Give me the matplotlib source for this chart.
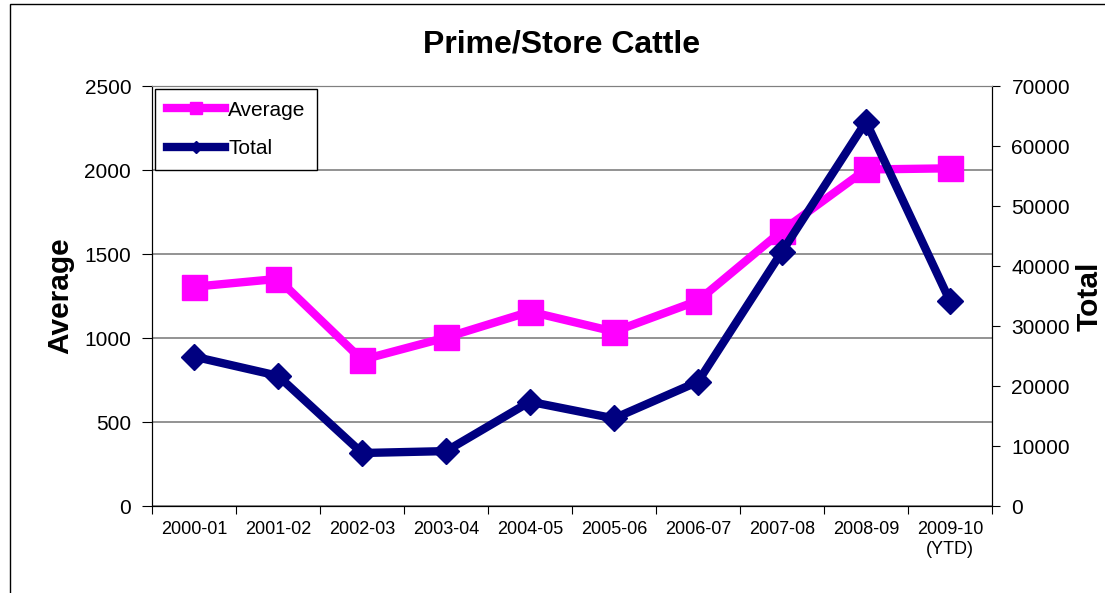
import matplotlib.pyplot as plt
from matplotlib.patches import Rectangle

plt.rcParams['font.family'] = ['Liberation Sans', 'DejaVu Sans']

seasons = ['2000-01', '2001-02', '2002-03', '2003-04', '2004-05',
           '2005-06', '2006-07', '2007-08', '2008-09', '2009-10\n(YTD)']
average = [1305, 1352, 870, 1003, 1157, 1038, 1222, 1638, 2003, 2010]
total = [24900, 21700, 8830, 9150, 17380, 14600, 20720, 42400, 64050, 34150]

fig = plt.figure(figsize=(11.05, 5.93), dpi=100)
ax = fig.add_axes([152 / 1105, 1 - 506 / 593, 840 / 1105, 420 / 593])
ax2 = ax.twinx()

# outer chart border (left and top visible)
fig.patches.append(Rectangle((10 / 1105, -0.1), 1.2, 1.1 - 4 / 593,
                             transform=fig.transFigure, fill=False,
                             edgecolor='black', lw=1))

x = list(range(len(seasons)))
ax.plot(x, average, color='#FF00FF', lw=6, marker='s', markersize=18,
        label='Average', zorder=3)
ax2.plot(x, total, color='#000080', lw=6, marker='D', markersize=13,
         label='Total', zorder=3)

ax.set_xlim(-0.5, 9.5)
ax.set_ylim(0, 2500)
ax.set_yticks(range(0, 2501, 500))
ax2.set_ylim(0, 70000)
ax2.set_yticks(range(0, 70001, 10000))

ax.set_xticks([i - 0.5 for i in range(11)])
ax.set_xticklabels([])
ax.set_xticks(x, minor=True)
ax.set_xticklabels(seasons, minor=True, fontsize=13)
ax.tick_params(axis='x', which='major', length=6, direction='out')
ax.tick_params(axis='x', which='minor', length=0, pad=11)

ax.grid(axis='y', color='#808080', lw=1.2)
ax.set_axisbelow(True)
ax.tick_params(axis='y', labelsize=15, length=7, direction='out', pad=8)
ax2.tick_params(axis='y', labelsize=15, length=6, direction='out', pad=8)

for a in (ax, ax2):
    a.spines['top'].set_color('#808080')
    for s in ('left', 'right', 'bottom'):
        a.spines[s].set_color('black')

ax.set_ylabel('Average', fontsize=21.5, fontweight='bold', labelpad=7)
ax2.set_ylabel('Total', fontsize=21.5, fontweight='bold', labelpad=4)
ax.set_title('Prime/Store Cattle', fontsize=23, fontweight='bold', pad=24,
             x=0.488)

h1, l1 = ax.get_legend_handles_labels()
h2, l2 = ax2.get_legend_handles_labels()
leg = ax2.legend(h1 + h2, l1 + l2, loc='upper left', fontsize=15,
                 fancybox=False, edgecolor='black', framealpha=1,
                 markerscale=0.45, handlelength=2.8, handletextpad=0.15,
                 labelspacing=0.95, borderpad=0.55, borderaxespad=0.15)
leg.get_frame().set_linewidth(1)

fig.savefig('out.png', dpi=100)
